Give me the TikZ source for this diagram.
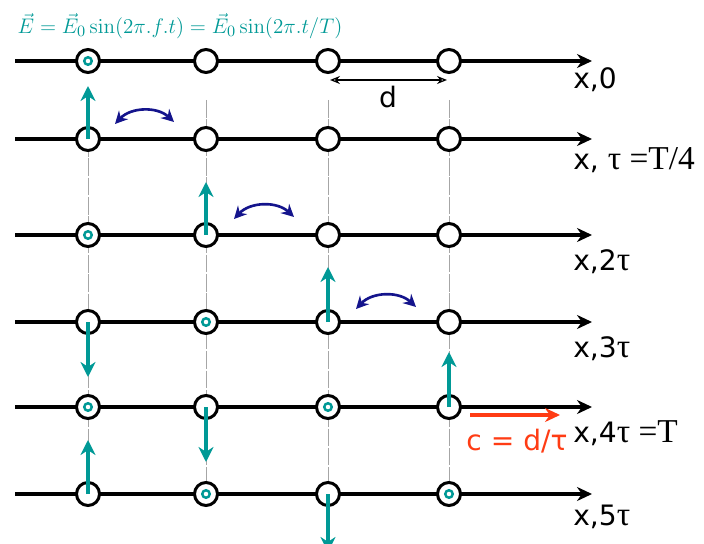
\documentclass[tikz,border=0pt]{standalone}
\usepackage[no-math]{fontspec}
\setmainfont{DejaVu Sans}
\newfontfamily\tms{Liberation Serif}
\usetikzlibrary{arrows.meta}
\definecolor{wave}{RGB}{0,153,150}
\definecolor{navy}{RGB}{20,20,140}
\definecolor{speed}{RGB}{255,60,20}
\newcommand{\tm}[1]{{\fontsize{19}{22}\tms #1}}
\tikzset{
  axis/.style={line width=2.3pt, -{Stealth[length=0.3cm,width=0.28cm]}},
  site/.style={circle, draw, fill=white, line width=1.7pt, minimum size=0.46cm, inner sep=0pt},
  outdot/.style={circle, draw=wave, line width=1.4pt, minimum size=0.15cm, inner sep=0pt},
  field/.style={wave, line width=2.3pt, -{Stealth[length=0.3cm,width=0.3cm]}},
  swing/.style={navy, line width=1.5pt, {Stealth[length=0.25cm,width=0.25cm]}-{Stealth[length=0.25cm,width=0.25cm]}, bend left=45},
  guide/.style={gray!70, line width=0.4pt, dash pattern=on 10pt off 1pt},
  lbl/.style={anchor=west, font=\fontsize{16}{19}\selectfont, inner sep=0pt},
}
\begin{document}
\begin{tikzpicture}[x=0.02cm, y=-0.02cm]
\useasboundingbox (0,0) rectangle (704,544);

% time rows
\coordinate (s0) at (15,61);  \coordinate (e0) at (592,61);
\coordinate (s1) at (15,139); \coordinate (e1) at (592,139);
\coordinate (s2) at (15,235); \coordinate (e2) at (592,235);
\coordinate (s3) at (15,322); \coordinate (e3) at (592,322);
\coordinate (s4) at (15,407); \coordinate (e4) at (592,407);
\coordinate (s5) at (15,494); \coordinate (e5) at (592,494);
\draw[axis] (s0) -- (e0);
\draw[axis] (s1) -- (e1);
\draw[axis] (s2) -- (e2);
\draw[axis] (s3) -- (e3);
\draw[axis] (s4) -- (e4);
\draw[axis] (s5) -- (e5);

% guides
\draw[guide] (88,139) -- (88,494);
\draw[guide] (206,100) -- (206,494);
\draw[guide] (328,100) -- (328,494);
\draw[guide] (449,100) -- (449,494);

% sites
\node[site] (p00) at (88,61) {};  \node[site] (p01) at (206,61) {};
\node[site] (p02) at (328,61) {}; \node[site] (p03) at (449,61) {};
\node[site] (p10) at (88,139) {};  \node[site] (p11) at (206,139) {};
\node[site] (p12) at (328,139) {}; \node[site] (p13) at (449,139) {};
\node[site] (p20) at (88,235) {};  \node[site] (p21) at (206,235) {};
\node[site] (p22) at (328,235) {}; \node[site] (p23) at (449,235) {};
\node[site] (p30) at (88,322) {};  \node[site] (p31) at (206,322) {};
\node[site] (p32) at (328,322) {}; \node[site] (p33) at (449,322) {};
\node[site] (p40) at (88,407) {};  \node[site] (p41) at (206,407) {};
\node[site] (p42) at (328,407) {}; \node[site] (p43) at (449,407) {};
\node[site] (p50) at (88,494) {};  \node[site] (p51) at (206,494) {};
\node[site] (p52) at (328,494) {}; \node[site] (p53) at (449,494) {};

% field out of the page
\node[outdot] at (p00) {};
\node[outdot] at (p20) {};
\node[outdot] at (p31) {};
\node[outdot] at (p40) {};
\node[outdot] at (p42) {};
\node[outdot] at (p51) {};
\node[outdot] at (p53) {};

% field in the plane
\coordinate (f10) at (88,86);
\coordinate (f21) at (206,182);
\coordinate (f32) at (328,267);
\coordinate (f43) at (449,352);
\coordinate (f30) at (88,377);
\coordinate (f41) at (206,462);
\coordinate (f50) at (88,440);
\coordinate (f52) at (328,552);
\draw[field] (p10.center) -- (f10);
\draw[field] (p21.center) -- (f21);
\draw[field] (p32.center) -- (f32);
\draw[field] (p43.center) -- (f43);
\draw[field] (p30.center) -- (f30);
\draw[field] (p41.center) -- (f41);
\draw[field] (p50.center) -- (f50);
\draw[field] (p52.center) -- (f52);

% swings
\coordinate (w1a) at (115,124); \coordinate (w1b) at (174,122);
\coordinate (w2a) at (234,219); \coordinate (w2b) at (294,217);
\coordinate (w3a) at (356,309); \coordinate (w3b) at (416,307);
\draw[swing] (w1a) to (w1b);
\draw[swing] (w2a) to (w2b);
\draw[swing] (w3a) to (w3b);

% spacing d
\coordinate (d0) at (330,80);
\coordinate (d1) at (447,80);
\draw[{Stealth[length=0.2cm,width=0.16cm,open]}-{Stealth[length=0.2cm,width=0.16cm,open]}, line width=0.7pt] (d0) -- (d1);
\node[font=\fontsize{16}{19}\selectfont] (dl) at (388,97) {d};

% speed
\coordinate (r0) at (470,415);
\coordinate (r1) at (560,415);
\draw[speed, line width=1.8pt, -{Stealth[length=0.3cm,width=0.28cm]}] (r0) -- (r1);
\node[speed, font=\fontsize{16}{19}\selectfont] (cl) at (517,441) {c = d/τ};

% labels
\node[lbl] (t0) at (573,80) {x,0};
\node[lbl] (t1) at (573,160) {x, \tm{τ =T/4}};
\node[lbl] (t2) at (573,262) {x,2\tm{τ}};
\node[lbl] (t3) at (573,349) {x,3\tm{τ}};
\node[lbl] (t4) at (573,433) {x,4\tm{τ =T}};
\node[lbl] (t5) at (573,517) {x,5\tm{τ}};

\node[wave, font=\fontsize{12.5}{15}\selectfont] (eq) at (180,26)
  {$\vec E = \vec E_0\sin\bigl(2\pi.f.t\bigr) = \vec E_0\sin\bigl(2\pi.t/T\bigr)$};
\end{tikzpicture}
\end{document}
